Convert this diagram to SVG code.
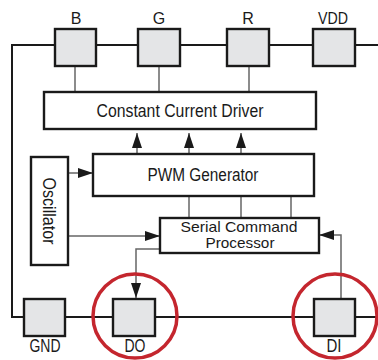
<svg xmlns="http://www.w3.org/2000/svg" width="378" height="360" viewBox="0 0 378 360">
<defs>
<style>
.bus{stroke:#1a1a1a;stroke-width:2;fill:none}
.pad{fill:#e4e5e7;stroke:#1a1a1a;stroke-width:2.4}
.blk{fill:#fff;stroke:#1a1a1a;stroke-width:2.4}
.wire{stroke:#666;stroke-width:1.5;fill:none}
.ring{fill:none;stroke:#c4262e;stroke-width:3.5}
text{font-family:"Liberation Sans",Arial,sans-serif;fill:#1a1a1a;text-anchor:middle}
.lbl{font-size:16px}
.lb2{font-size:18px}
.t{font-size:17.5px}
.s{font-size:14.5px}
</style>
<marker id="ah" markerUnits="userSpaceOnUse" markerWidth="15" markerHeight="10" refX="15" refY="5" orient="auto" viewBox="0 0 15 10">
<path d="M0,0 L15,5 L0,10 z" fill="#1a1a1a"/>
</marker>
</defs>
<g id="connectors">
<polyline class="bus" points="378,45 12,45 12,317 378,317"/>
<line class="wire" x1="75" y1="66" x2="75" y2="92"/>
<line class="wire" x1="159" y1="66" x2="159" y2="92"/>
<line class="wire" x1="249" y1="66" x2="249" y2="92"/>
<line class="wire" x1="137" y1="154" x2="137" y2="133" marker-end="url(#ah)"/>
<line class="wire" x1="189" y1="154" x2="189" y2="133" marker-end="url(#ah)"/>
<line class="wire" x1="241" y1="154" x2="241" y2="133" marker-end="url(#ah)"/>
<line class="wire" x1="68" y1="173" x2="93" y2="173" marker-end="url(#ah)"/>
<line class="wire" x1="68" y1="236" x2="160" y2="236" marker-end="url(#ah)"/>
<line class="wire" x1="189" y1="196" x2="189" y2="218"/>
<line class="wire" x1="241" y1="196" x2="241" y2="218"/>
<line class="wire" x1="291" y1="196" x2="291" y2="218"/>
<polyline class="wire" points="160,249 136,249 136,298" marker-end="url(#ah)"/>
<polyline class="wire" points="341,299 341,235 319,235" marker-end="url(#ah)"/>
</g>
<g id="pad-B"><rect class="pad" x="55" y="29" width="41" height="37"/><text class="lbl" x="76" y="24">B</text></g>
<g id="pad-G"><rect class="pad" x="138" y="29" width="42" height="37"/><text class="lbl" x="159" y="24">G</text></g>
<g id="pad-R"><rect class="pad" x="227" y="29" width="42" height="37"/><text class="lbl" x="248" y="24">R</text></g>
<g id="pad-VDD"><rect class="pad" x="313" y="29" width="42" height="37"/><text class="lbl" x="333" y="24" textLength="30" lengthAdjust="spacingAndGlyphs">VDD</text></g>
<g id="ccd"><rect class="blk" x="44" y="92" width="272" height="37"/><text class="t" x="180" y="117" textLength="167" lengthAdjust="spacingAndGlyphs">Constant Current Driver</text></g>
<g id="pwm"><rect class="blk" x="93" y="154" width="221" height="42"/><text class="t" x="203" y="181" textLength="111" lengthAdjust="spacingAndGlyphs">PWM Generator</text></g>
<g id="osc"><rect class="blk" x="31" y="157" width="37" height="108"/><text class="t" transform="translate(43,211) rotate(90)" x="0" y="0" textLength="67" lengthAdjust="spacingAndGlyphs">Oscillator</text></g>
<g id="scp"><rect class="blk" x="160" y="218" width="159" height="35"/><text class="s" x="239" y="231.5" textLength="117" lengthAdjust="spacingAndGlyphs">Serial Command</text><text class="s" x="240" y="248" textLength="69" lengthAdjust="spacingAndGlyphs">Processor</text></g>
<g id="pad-GND"><rect class="pad" x="24" y="299" width="41" height="37"/><text class="lb2" x="45" y="352" textLength="31" lengthAdjust="spacingAndGlyphs">GND</text></g>
<g id="pad-DO"><rect class="pad" x="113" y="299" width="42" height="37"/><text class="lb2" x="135" y="352" textLength="21" lengthAdjust="spacingAndGlyphs">DO</text><circle class="ring" cx="135" cy="316" r="42"/></g>
<g id="pad-DI"><rect class="pad" x="314" y="299" width="41" height="37"/><text class="lb2" x="334" y="352" textLength="15" lengthAdjust="spacingAndGlyphs">DI</text><circle class="ring" cx="335" cy="316" r="42"/></g>
</svg>
